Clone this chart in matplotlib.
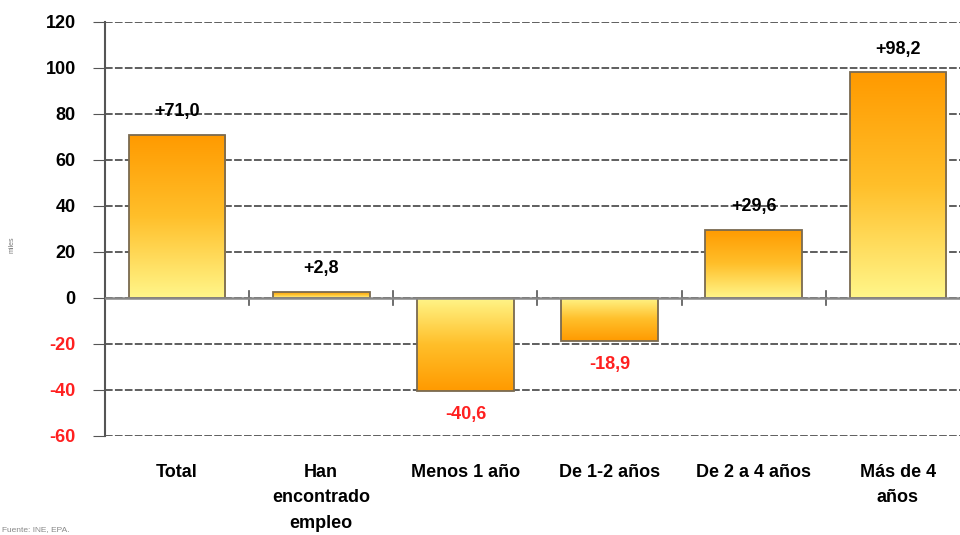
import matplotlib.pyplot as plt
import numpy as np
from matplotlib.colors import LinearSegmentedColormap

categories = ["Total", "Han\nencontrado\nempleo", "Menos 1 año", "De 1-2 años", "De 2 a 4 años", "Más de 4\naños"]
values = [71.0, 2.8, -40.6, -18.9, 29.6, 98.2]
value_labels = ["+71,0", "+2,8", "-40,6", "-18,9", "+29,6", "+98,2"]
yticks = [-60, -40, -20, 0, 20, 40, 60, 80, 100, 120]

plt.rcParams["font.family"] = ["Liberation Sans", "DejaVu Sans"]

fig = plt.figure(figsize=(9.6, 5.35), dpi=100)
ax = fig.add_axes([105 / 960, 1 - 436 / 535, (970 - 105) / 960, (436 - 22) / 535])

cmap = LinearSegmentedColormap.from_list("yo", ["#FFF68A", "#FFBF2A", "#FF9A00"])
grad = np.linspace(0, 1, 256).reshape(-1, 1)

x = np.arange(len(values))
bars = ax.bar(x, values, width=0.67, color="none", edgecolor="#7a6a50", linewidth=1.3, zorder=3)
for b, v in zip(bars, values):
    x0 = b.get_x()
    x1 = x0 + b.get_width()
    # yellow near zero, orange at the far end
    img = grad if v >= 0 else grad[::-1]
    im = ax.imshow(img, cmap=cmap, aspect="auto", origin="lower",
                   extent=(x0, x1, min(0, v), max(0, v)), zorder=2)
    im.set_clip_path(b)

for xi, v, lab in zip(x, values, value_labels):
    col = "black" if v >= 0 else "#ff2020"
    ypos = v + 10 if v >= 0 else v - 10
    ax.text(xi, ypos, lab, ha="center", va="center", fontsize=13, fontweight="bold", color=col)

ax.set_xlim(-0.5, 5.5)
ax.set_ylim(-60, 120)
ax.set_yticks(yticks)
ax.set_yticklabels([str(t) for t in yticks], fontsize=13, fontweight="bold")
for t, lbl in zip(yticks, ax.get_yticklabels()):
    if t < 0:
        lbl.set_color("#ff2020")
ax.yaxis.grid(True, linestyle=(0, (5, 1.5)), color="#333333", linewidth=1.1, zorder=0)
ax.tick_params(axis="y", length=9, color="#555555", pad=12)
ax.set_axisbelow(True)

ax.set_xticks([])
for xb in np.arange(0.5, 5.5, 1.0):
    ax.plot([xb, xb], [-3, 3], color="#555555", linewidth=1.2, zorder=4)
ax.axhline(0, color="#888888", linewidth=1.8, zorder=4)

for xi, c in zip(x, categories):
    ax.text(xi, -72, c, ha="center", va="top", fontsize=13, fontweight="bold",
            linespacing=1.65, transform=ax.transData)

for s in ["top", "right", "bottom"]:
    ax.spines[s].set_visible(False)
ax.spines["left"].set_color("#555555")
ax.spines["left"].set_linewidth(1.5)

fig.text(12 / 960, 1 - 245 / 535, "miles", rotation=90, fontsize=5, color="#777777", ha="center", va="center")
fig.text(2 / 960, 1 - 530 / 535, "Fuente: INE, EPA.", fontsize=6, color="#888888", ha="left", va="center")

fig.savefig("out.png", dpi=100)
